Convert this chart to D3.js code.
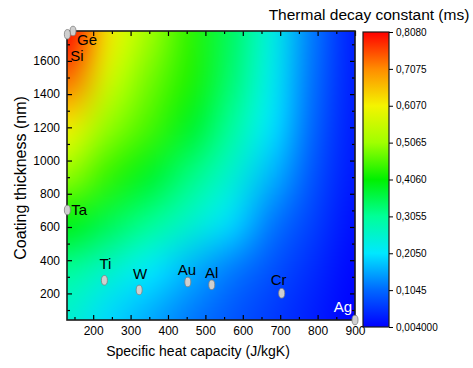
<!DOCTYPE html>
<html>
<head>
<meta charset="utf-8">
<script src="https://cdn.jsdelivr.net/npm/d3@7"></script>
<style>
  html, body { margin: 0; padding: 0; background: #fff; }
  svg { display: block; font-family: Arial, "Liberation Sans", sans-serif; }
</style>
</head>
<body>
<div id="chart"></div>
<script>
// Field: tau (ms) on an even grid of capacity x thickness
const capNodes = [130, 240, 350, 460, 570, 680, 790, 900];
const thickNodes = [1780, 1490, 1200, 910, 620, 330, 40];
const tauGrid = [
  [0.808, 0.620, 0.510, 0.435, 0.341, 0.231, 0.116, 0.030],
  [0.730, 0.570, 0.480, 0.425, 0.330, 0.220, 0.110, 0.030],
  [0.612, 0.500, 0.450, 0.380, 0.300, 0.200, 0.101, 0.028],
  [0.500, 0.440, 0.380, 0.320, 0.250, 0.165, 0.084, 0.025],
  [0.395, 0.351, 0.307, 0.252, 0.193, 0.118, 0.065, 0.018],
  [0.300, 0.253, 0.206, 0.162, 0.119, 0.081, 0.045, 0.010],
  [0.250, 0.193, 0.156, 0.118, 0.087, 0.060, 0.032, 0.005]
];

// Materials
const matNames = ["Ge", "Si", "Ta", "Ti", "W", "Au", "Al", "Cr", "Ag"];
const matCap = [146, 131, 131, 230, 323, 453, 517, 704, 900];
const matThick = [1780, 1760, 702, 279, 221, 269, 252, 201, 40];

// Axes
const xMajor = [200, 300, 400, 500, 600, 700, 800, 900];
const xMinor = [150, 250, 350, 450, 550, 650, 750, 850];
const yMajor = [200, 400, 600, 800, 1000, 1200, 1400, 1600];
const yMinor = [100, 300, 500, 700, 900, 1100, 1300, 1500, 1700];

// Colour bar
const cbTicks = [0.004, 0.1045, 0.2050, 0.3055, 0.4060, 0.5065, 0.6070, 0.7075, 0.8080];
const cbLabels = ["0,004000", "0,1045", "0,2050", "0,3055", "0,4060", "0,5065", "0,6070", "0,7075", "0,8080"];
const cmapColors = ["#0000ff", "#0068ff", "#00e8ff", "#00ff98", "#00f000", "#a0ff00", "#f4f400", "#ff8c00", "#ff0000"];

const width = 473, height = 368;
const plot = { left: 67, right: 355, top: 31, bottom: 320 };
const bar = { left: 363, right: 389, top: 32, bottom: 327 };

// label offsets relative to the marker (layout only)
const labelPos = {
  Ge: [4, 14, "start"], Si: [3, 27, "start"], Ta: [4, 5, "start"],
  Ti: [1, -11, "middle"], W: [1, -11, "middle"], Au: [-1, -7, "middle"],
  Al: [0, -7, "middle"], Cr: [-3, -8, "middle"], Ag: [-3, -8, "end"]
};

const x = d3.scaleLinear().domain([130, 900]).range([plot.left, plot.right]);
const y = d3.scaleLinear().domain([40, 1780]).range([plot.bottom, plot.top]);
const color = d3.scaleLinear().domain(cbTicks).range(cmapColors).clamp(true);

const svg = d3.select("#chart").append("svg")
  .attr("width", width)
  .attr("height", height);

// Heat map: one pixel per grid node, stretched by the browser's smoothing
const small = document.createElement("canvas");
small.width = capNodes.length;
small.height = thickNodes.length;
const sctx = small.getContext("2d");
tauGrid.forEach((row, j) => row.forEach((v, i) => {
  sctx.fillStyle = color(v);
  sctx.fillRect(i, j, 1, 1);
}));
const cellW = (x(capNodes[capNodes.length - 1]) - x(capNodes[0])) / (capNodes.length - 1);
const cellH = (y(thickNodes[thickNodes.length - 1]) - y(thickNodes[0])) / (thickNodes.length - 1);
const bigW = Math.round(cellW * capNodes.length), bigH = Math.round(cellH * thickNodes.length);
const big = document.createElement("canvas");
big.width = bigW; big.height = bigH;
const bctx = big.getContext("2d");
bctx.imageSmoothingEnabled = true;
bctx.imageSmoothingQuality = "high";
bctx.drawImage(small, 0, 0, bigW, bigH);

svg.append("clipPath").attr("id", "plotclip")
  .append("rect")
  .attr("x", plot.left).attr("y", plot.top)
  .attr("width", plot.right - plot.left).attr("height", plot.bottom - plot.top);

svg.append("image")
  .attr("clip-path", "url(#plotclip)")
  .attr("x", x(capNodes[0]) - cellW / 2)
  .attr("y", y(thickNodes[0]) - cellH / 2)
  .attr("width", bigW).attr("height", bigH)
  .attr("preserveAspectRatio", "none")
  .attr("href", big.toDataURL());

// Axes with inward ticks on all four sides
function styleAxis(g) {
  g.select(".domain").remove();
  g.selectAll("line").attr("stroke", "#000").attr("stroke-width", 1.2);
  g.selectAll("text").attr("fill", "#000").style("font-size", "12px");
}
svg.append("g").attr("transform", `translate(0,${plot.bottom})`)
  .call(d3.axisBottom(x).tickValues(xMajor).tickSize(-5).tickPadding(6).tickFormat(d3.format("d")))
  .call(styleAxis);
svg.append("g").attr("transform", `translate(0,${plot.bottom})`)
  .call(d3.axisBottom(x).tickValues(xMinor).tickSize(-3).tickFormat(""))
  .call(styleAxis);
svg.append("g").attr("transform", `translate(0,${plot.top})`)
  .call(d3.axisTop(x).tickValues(xMajor).tickSize(-5).tickFormat(""))
  .call(styleAxis);
svg.append("g").attr("transform", `translate(0,${plot.top})`)
  .call(d3.axisTop(x).tickValues(xMinor).tickSize(-3).tickFormat(""))
  .call(styleAxis);
svg.append("g").attr("transform", `translate(${plot.left},0)`)
  .call(d3.axisLeft(y).tickValues(yMajor).tickSize(-5).tickPadding(7).tickFormat(d3.format("d")))
  .call(styleAxis);
svg.append("g").attr("transform", `translate(${plot.left},0)`)
  .call(d3.axisLeft(y).tickValues(yMinor).tickSize(-3).tickFormat(""))
  .call(styleAxis);
svg.append("g").attr("transform", `translate(${plot.right},0)`)
  .call(d3.axisRight(y).tickValues(yMajor).tickSize(-5).tickFormat(""))
  .call(styleAxis);
svg.append("g").attr("transform", `translate(${plot.right},0)`)
  .call(d3.axisRight(y).tickValues(yMinor).tickSize(-3).tickFormat(""))
  .call(styleAxis);

// Frame
svg.append("rect")
  .attr("x", plot.left).attr("y", plot.top)
  .attr("width", plot.right - plot.left).attr("height", plot.bottom - plot.top)
  .attr("fill", "none").attr("stroke", "#1a1a1a").attr("stroke-width", 1.6);

// Material markers and names
const mats = matNames.map((n, i) => ({ name: n, c: matCap[i], t: matThick[i] }));
svg.append("g").selectAll("ellipse")
  .data(mats).join("ellipse")
  .attr("cx", d => x(d.c)).attr("cy", d => y(d.t))
  .attr("rx", 3).attr("ry", 4.8)
  .attr("fill", "#cfcfcf").attr("stroke", "#808080").attr("stroke-width", 0.8);
svg.append("g").selectAll("text")
  .data(mats).join("text")
  .attr("x", d => x(d.c) + labelPos[d.name][0])
  .attr("y", d => y(d.t) + labelPos[d.name][1])
  .attr("text-anchor", d => labelPos[d.name][2])
  .attr("fill", d => d.name === "Ag" ? "#fff" : "#000")
  .style("font-size", "15px")
  .text(d => d.name);

// Axis titles
svg.append("text")
  .attr("x", 198).attr("y", 356)
  .attr("text-anchor", "middle").style("font-size", "14px")
  .text("Specific heat capacity (J/kgK)");
svg.append("text")
  .attr("transform", `translate(26,178) rotate(-90)`)
  .attr("text-anchor", "middle").style("font-size", "16px")
  .text("Coating thickness (nm)");

// Colour bar
const cb = d3.scaleLinear().domain([cbTicks[0], cbTicks[cbTicks.length - 1]]).range([bar.bottom, bar.top]);
const grad = svg.append("defs").append("linearGradient")
  .attr("id", "cbgrad").attr("x1", 0).attr("y1", 1).attr("x2", 0).attr("y2", 0);
grad.selectAll("stop").data(cbTicks).join("stop")
  .attr("offset", d => (d - cbTicks[0]) / (cbTicks[cbTicks.length - 1] - cbTicks[0]))
  .attr("stop-color", d => color(d));
svg.append("rect")
  .attr("x", bar.left).attr("y", bar.top)
  .attr("width", bar.right - bar.left).attr("height", bar.bottom - bar.top)
  .attr("fill", "url(#cbgrad)").attr("stroke", "#1a1a1a").attr("stroke-width", 1.2);
svg.append("g").attr("transform", `translate(${bar.right},0)`)
  .call(d3.axisRight(cb).tickValues(cbTicks).tickSize(4).tickPadding(3)
    .tickFormat((d, i) => cbLabels[i]))
  .call(g => g.select(".domain").remove())
  .call(g => g.selectAll("line").attr("stroke", "#000"))
  .call(g => g.selectAll("text").attr("fill", "#000").style("font-size", "10px"));

svg.append("text")
  .attr("x", 369).attr("y", 20)
  .attr("text-anchor", "middle").style("font-size", "15.5px")
  .text("Thermal decay constant (ms)");
</script>
</body>
</html>
